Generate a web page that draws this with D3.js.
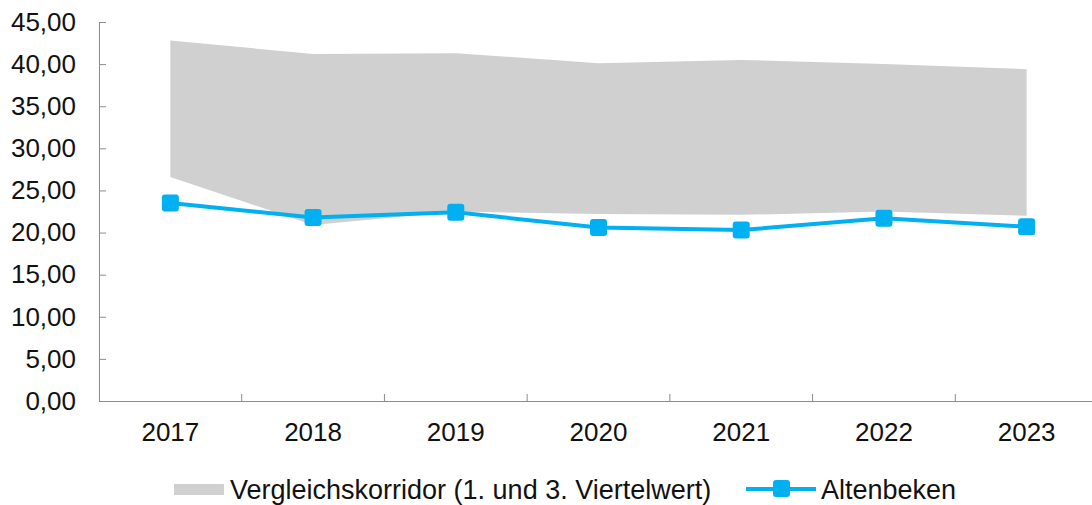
<html>
<head>
  <script src="https://d3js.org/d3.v7.min.js"></script>
  <style>
    body { margin: 0; background: #fff; }
    text { font-family: "Liberation Sans", Arial, sans-serif; fill: #111; }
  </style>
</head>
<body>
  <svg id="chart"></svg>

  <script>
    const years = ['2017', '2018', '2019', '2020', '2021', '2022', '2023'];
    const corridorLow = [26.6, 20.9, 22.5, 22.2, 22.1, 22.5, 22.0];
    const corridorHigh = [42.8, 41.2, 41.3, 40.1, 40.5, 40.0, 39.4];
    const altenbeken = [23.5, 21.8, 22.4, 20.6, 20.3, 21.7, 20.7];
    const yTicks = [0, 5, 10, 15, 20, 25, 30, 35, 40, 45];

    const width = 1092;
    const height = 505;
    const blue = '#00b0f0';
    const axisColor = '#8c8c8c';
    const fontSize = '26px';

    const svg = d3.select('#chart')
      .attr('width', width)
      .attr('height', height);

    const x = d3.scaleBand().domain(years).range([99, 1098]);
    const y = d3.scaleLinear().domain([0, 45]).range([401, 22]);
    const cx = d => x(d) + x.bandwidth() / 2;

    const fmt = v => d3.format('.2f')(v).replace('.', ',');

    // corridor band
    const rows = years.map((yr, i) => ({ yr, lo: corridorLow[i], hi: corridorHigh[i] }));
    svg.append('path')
      .datum(rows)
      .attr('fill', '#d0d0d0')
      .attr('d', d3.area()
        .x(d => cx(d.yr))
        .y0(d => y(d.lo))
        .y1(d => y(d.hi)));

    // y axis
    const yAxis = svg.append('g')
      .attr('transform', 'translate(99,0)')
      .call(d3.axisLeft(y).tickValues(yTicks).tickFormat(fmt).tickSize(-7).tickSizeOuter(0).tickPadding(23));
    yAxis.select('.domain').attr('stroke', axisColor);
    yAxis.selectAll('.tick line').attr('stroke', axisColor);
    yAxis.selectAll('text').style('font-size', fontSize).attr('fill', '#111');

    // x axis
    const xAxis = svg.append('g')
      .attr('transform', 'translate(0,401)')
      .call(d3.axisBottom(x).tickSize(0).tickSizeOuter(0).tickPadding(22));
    xAxis.select('.domain').attr('stroke', axisColor);
    xAxis.selectAll('text').style('font-size', fontSize).attr('fill', '#111');

    const bounds = years.slice(1).map(d => x(d)).concat([x(years[years.length - 1]) + x.bandwidth()]);
    svg.append('g').selectAll('line')
      .data(bounds)
      .enter().append('line')
      .attr('x1', d => d).attr('x2', d => d)
      .attr('y1', 401).attr('y2', 394)
      .attr('stroke', axisColor);

    // line series
    const pts = years.map((yr, i) => ({ yr, v: altenbeken[i] }));
    svg.append('path')
      .datum(pts)
      .attr('fill', 'none')
      .attr('stroke', blue)
      .attr('stroke-width', 4)
      .attr('d', d3.line().x(d => cx(d.yr)).y(d => y(d.v)));

    svg.append('g').selectAll('rect')
      .data(pts)
      .enter().append('rect')
      .attr('x', d => cx(d.yr) - 8.5)
      .attr('y', d => y(d.v) - 8.5)
      .attr('width', 17).attr('height', 17)
      .attr('rx', 3)
      .attr('fill', blue);

    // legend
    const legend = svg.append('g');
    legend.append('rect')
      .attr('x', 174).attr('y', 484).attr('width', 50).attr('height', 11)
      .attr('fill', '#d0d0d0');
    legend.append('text')
      .attr('x', 230).attr('y', 499)
      .style('font-size', '27px')
      .text('Vergleichskorridor (1. und 3. Viertelwert)');
    legend.append('line')
      .attr('x1', 746).attr('x2', 816).attr('y1', 489).attr('y2', 489)
      .attr('stroke', blue).attr('stroke-width', 4);
    legend.append('rect')
      .attr('x', 773).attr('y', 480).attr('width', 17).attr('height', 17).attr('rx', 3)
      .attr('fill', blue);
    legend.append('text')
      .attr('x', 821).attr('y', 499)
      .style('font-size', '27px')
      .text('Altenbeken');
  </script>
</body>
</html>
